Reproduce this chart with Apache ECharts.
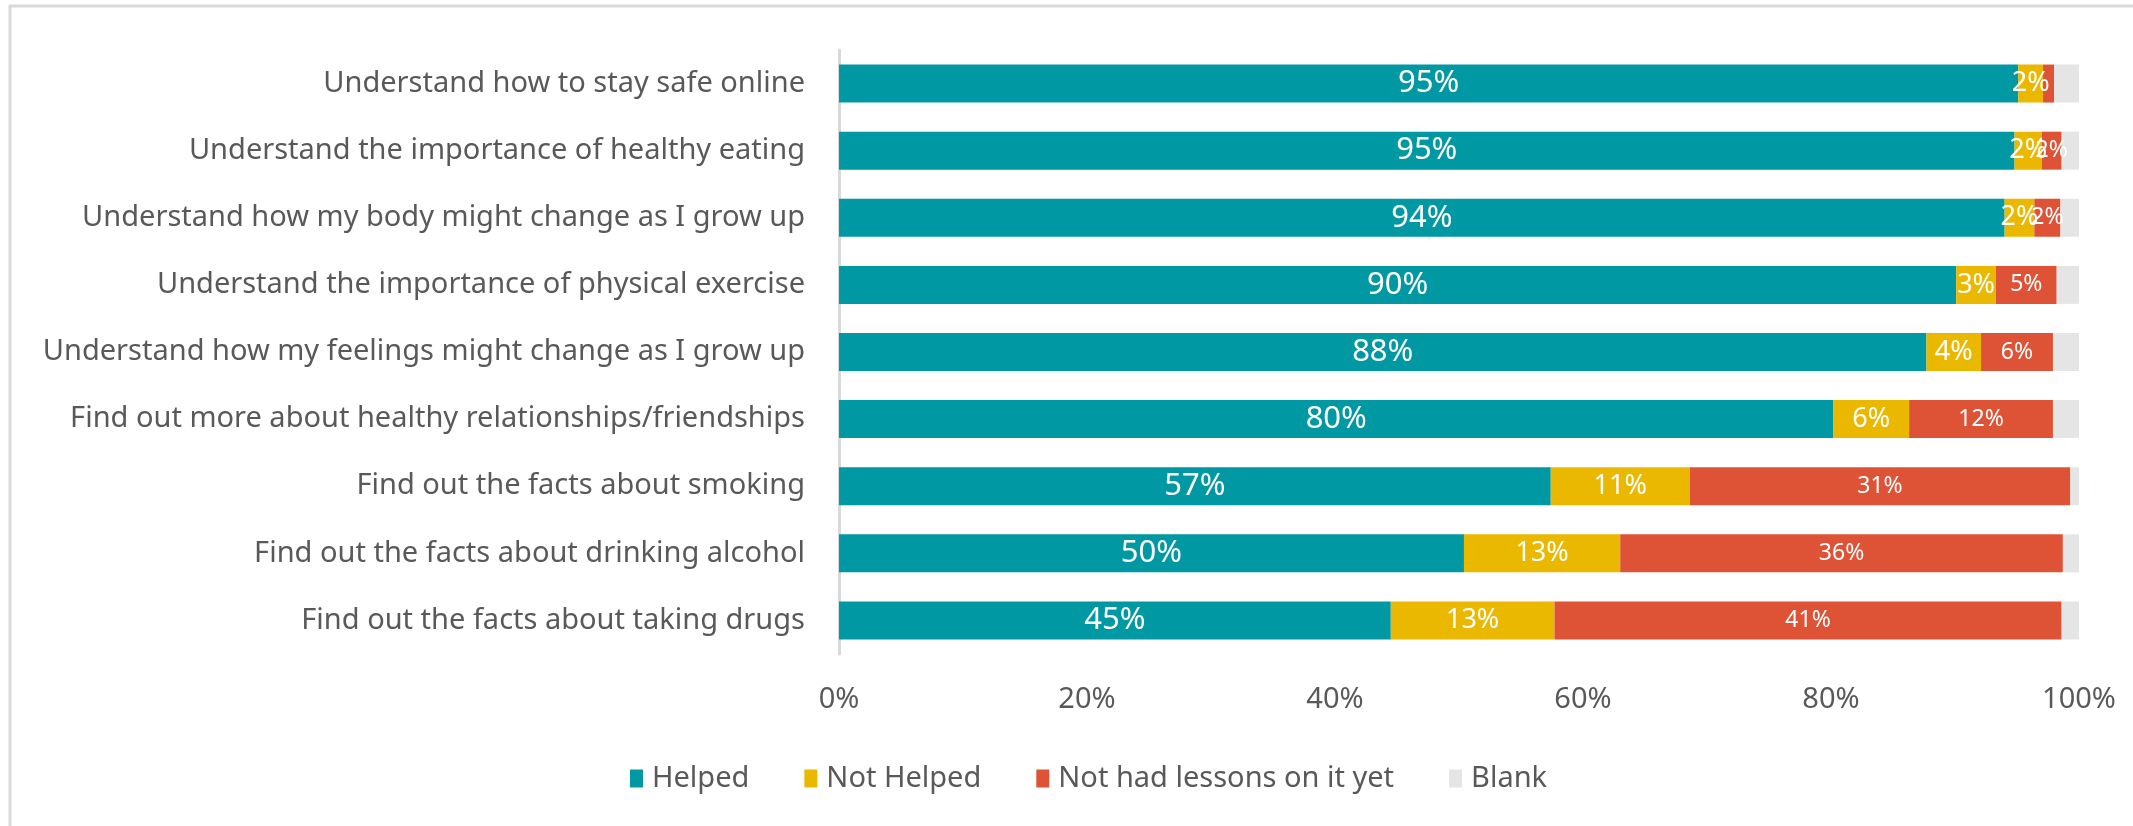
<!DOCTYPE html>
<html>
<head>
<meta charset="utf-8">
<script src="https://cdn.jsdelivr.net/npm/echarts@6/dist/echarts.min.js"></script>
<style>
  html, body { margin: 0; padding: 0; background: #fff; }
  #main { width: 2133px; height: 826px; }
</style>
</head>
<body>
<div id="main"></div>
<script>
// categories, top to bottom
let categories = [
    'Understand how to stay safe online',
    'Understand the importance of healthy eating',
    'Understand how my body might change as I grow up',
    'Understand the importance of physical exercise',
    'Understand how my feelings might change as I grow up',
    'Find out more about healthy relationships/friendships',
    'Find out the facts about smoking',
    'Find out the facts about drinking alcohol',
    'Find out the facts about taking drugs'
]

// percentages
let helped = [95.1, 94.8, 94.0, 90.1, 87.7, 80.2, 57.4, 50.4, 44.5]
let notHelped = [2.0, 2.2, 2.4, 3.2, 4.4, 6.1, 11.2, 12.6, 13.2]
let noLessons = [0.9, 1.6, 2.1, 4.9, 5.8, 11.6, 30.7, 35.7, 40.9]
let blank = [2.0, 1.4, 1.5, 1.8, 2.1, 2.1, 0.7, 1.3, 1.4]

let xTicks = [0, 20, 40, 60, 80, 100]

let font = "'Noto Sans', sans-serif"

let myChart = echarts.init(document.getElementById('main'))

function pctLabel(size, minShow) {
    return {
        show: true,
        position: 'inside',
        color: '#fff',
        fontFamily: font,
        fontSize: size,
        formatter: function (p) {
            return p.value < minShow ? '' : Math.round(p.value) + '%'
        }
    }
}

let option = {
    animation: false,
    backgroundColor: '#fff',
    color: ['#0098A3', '#EBB800', '#DE5236', '#E5E5E5'],
    graphic: [{
        type: 'rect',
        shape: { x: 10, y: 6, width: 2200, height: 900 },
        style: { fill: 'none', stroke: '#D9D9D9', lineWidth: 3 },
        silent: true
    }],
    legend: {
        data: ['Helped', 'Not Helped', 'Not had lessons on it yet', 'Blank'],
        left: 625,
        top: 759,
        itemWidth: 13,
        itemHeight: 18,
        itemGap: 55,
        icon: 'rect',
        textStyle: { color: '#595959', fontSize: 29, fontFamily: font, padding: [0, 0, 0, 4] }
    },
    grid: {
        left: 839,
        right: 54,
        top: 50,
        bottom: 172
    },
    xAxis: {
        type: 'value',
        min: xTicks[0],
        max: xTicks[xTicks.length - 1],
        interval: 20,
        splitLine: { show: false },
        axisLine: { show: false },
        axisTick: { show: false },
        axisLabel: {
            formatter: '{value}%',
            color: '#595959',
            fontSize: 29,
            fontFamily: font,
            margin: 31
        }
    },
    yAxis: {
        type: 'category',
        inverse: true,
        data: categories,
        axisLine: { show: true, lineStyle: { color: '#D9D9D9', width: 3 } },
        axisTick: { show: false },
        axisLabel: {
            color: '#595959',
            fontSize: 29,
            fontFamily: font,
            margin: 34
        }
    },
    series: [{
        name: 'Helped',
        type: 'bar',
        stack: 'all',
        barWidth: 38,
        data: helped,
        label: pctLabel(31, 1.2)
    }, {
        name: 'Not Helped',
        type: 'bar',
        stack: 'all',
        barWidth: 38,
        data: notHelped,
        label: pctLabel(27, 1.2)
    }, {
        name: 'Not had lessons on it yet',
        type: 'bar',
        stack: 'all',
        barWidth: 38,
        data: noLessons,
        label: pctLabel(23, 1.2)
    }, {
        name: 'Blank',
        type: 'bar',
        stack: 'all',
        barWidth: 38,
        data: blank
    }]
}

myChart.setOption(option)
</script>
</body>
</html>
